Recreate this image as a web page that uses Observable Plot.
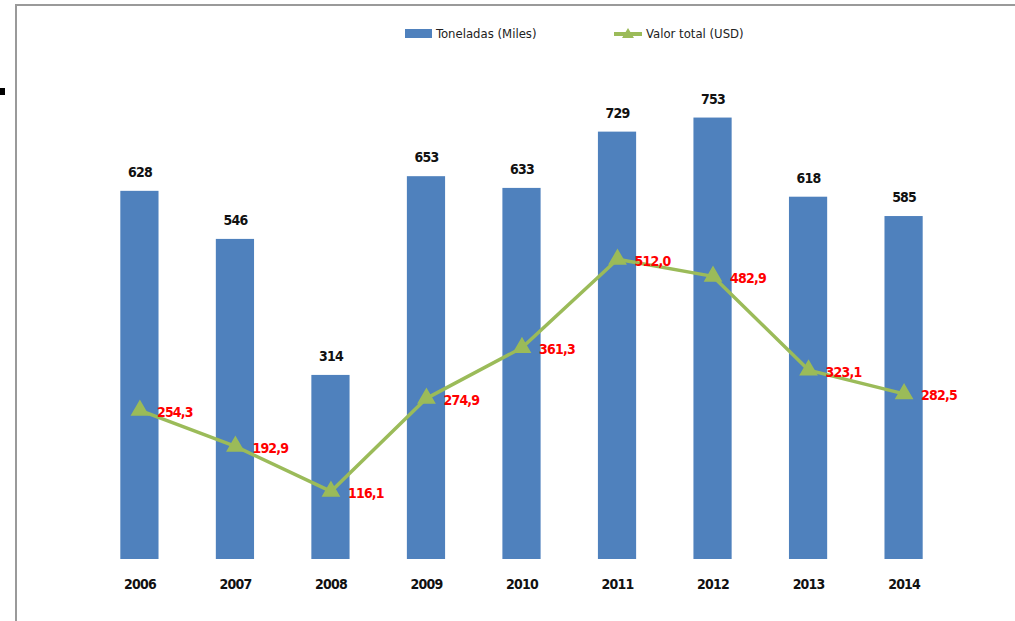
<!DOCTYPE html>
<html>
<head>
<meta charset="utf-8">
<script src="https://cdn.jsdelivr.net/npm/d3@7"></script>
<script src="https://cdn.jsdelivr.net/npm/@observablehq/plot@0.6"></script>
<style>
  html, body { margin: 0; padding: 0; background: #fff; }
  #page { position: relative; width: 1015px; height: 621px; overflow: hidden;
          font-family: "DejaVu Sans Condensed", "Liberation Sans", sans-serif; }
  #topline { position: absolute; left: 15px; top: 4px; width: 1000px; height: 2px; background: #9a9a9a; }
  #leftline { position: absolute; left: 15px; top: 4px; width: 2px; height: 617px; background: #9a9a9a; }
  #mark { position: absolute; left: 0; top: 88px; width: 5px; height: 7px; background: #000; }
  #legend { position: absolute; left: 0; top: 0; width: 1015px; height: 60px; font-size: 13px; color: #222; }
  .lg { position: absolute; top: 26px; display: flex; align-items: center; gap: 4px; white-space: nowrap; }
  #chart { position: absolute; left: 0; top: 60px; }
  #chart text { letter-spacing: -0.8px; }
</style>
</head>
<body>
<div id="page">
  <div id="topline"></div>
  <div id="leftline"></div>
  <div id="mark"></div>
  <div id="legend"></div>
  <div id="chart"></div>
</div>
<script>
const years = ["2006","2007","2008","2009","2010","2011","2012","2013","2014"];
const toneladas = [628, 546, 314, 653, 633, 729, 753, 618, 585];
const valorTotal = [254.3, 192.9, 116.1, 274.9, 361.3, 512.0, 482.9, 323.1, 282.5];
const seriesNames = ["Toneladas (Miles)", "Valor total (USD)"];

const blue = "#4F81BD", green = "#9BBB59", red = "#FF0000";
const data = years.map((y, i) => ({year: y, ton: toneladas[i], val: valorTotal[i]}));
const fmt = v => v.toFixed(1).replace(".", ",");

const chart = Plot.plot({
  width: 1015,
  height: 561,
  marginLeft: 63,
  marginRight: 35,
  marginTop: 30,
  marginBottom: 62,
  style: {fontFamily: '"DejaVu Sans Condensed", "Liberation Sans", sans-serif', background: "transparent"},
  x: {domain: years, padding: 0.6, round: false, label: null},
  y: {domain: [0, 800], axis: null},
  marks: [
    Plot.axisX({tickSize: 0, tickPadding: 20, fontSize: 14, fontWeight: "bold", fill: "#111", label: null}),
    Plot.barY(data, {x: "year", y: "ton", fill: blue}),
    Plot.text(data, {x: "year", y: "ton", text: d => String(d.ton), dy: -19, fontSize: 14, fontWeight: "bold", fill: "#111"}),
    Plot.line(data, {x: "year", y: "val", stroke: green, strokeWidth: 3.5}),
    Plot.dot(data, {x: "year", y: "val", symbol: "triangle", r: 6, fill: green, stroke: green}),
    Plot.text(data, {x: "year", y: "val", text: d => fmt(d.val), dx: 17, dy: 2, textAnchor: "start", fontSize: 14, fontWeight: "bold", fill: red})
  ]
});
document.getElementById("chart").appendChild(chart);

const legend = document.getElementById("legend");
legend.innerHTML = `
  <div class="lg" style="left:405px"><span style="display:inline-block;width:27px;height:9px;background:${blue}"></span><span>${seriesNames[0]}</span></div>
  <div class="lg" style="left:614px"><svg width="28" height="14"><line x1="0" y1="7" x2="28" y2="7" stroke="${green}" stroke-width="4"/><path d="M14,1 L20,11 L8,11 Z" fill="${green}"/></svg><span>${seriesNames[1]}</span></div>`;
</script>
</body>
</html>
